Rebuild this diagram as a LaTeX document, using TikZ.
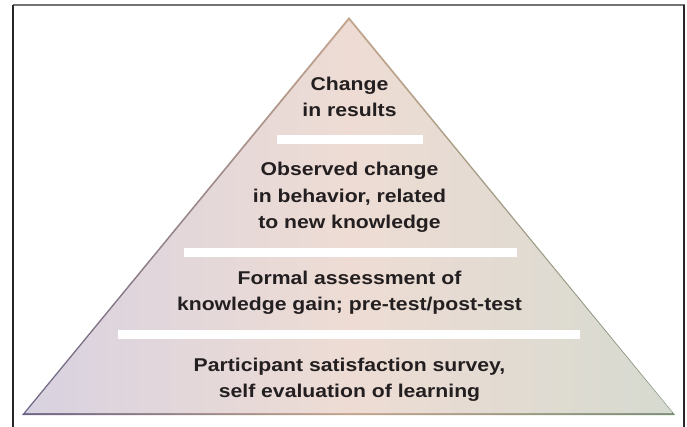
\documentclass[tikz,border=0pt]{standalone}
\usepackage{fontspec}
\setmainfont{Liberation Sans}[FakeStretch=1.145]
\definecolor{edgeleft}{RGB}{108,100,132}
\definecolor{edgemid}{RGB}{196,166,142}
\definecolor{edgeright}{RGB}{122,142,120}
\definecolor{fillleft}{RGB}{216,210,224}
\definecolor{fillmid}{RGB}{238,220,212}
\definecolor{fillright}{RGB}{214,218,208}
\definecolor{inkgray}{RGB}{35,31,32}
\tikzset{every picture/.style={x=1pt,y=-1pt},
  tierlabel/.style={align=center, inner sep=0pt, text=inkgray,
    font=\fontsize{18.5}{26.5}\selectfont\bfseries},
  divider/.style={fill=white, draw=none}}

\begin{document}
\begin{tikzpicture}
  \useasboundingbox (0,0) rectangle (687,427);
  % frame, open at the bottom
  \draw[line width=2pt, black!55] (12.5,5.5) -- (684.5,5.5);
  \draw[line width=1.3pt, black!85] (13,5) -- (13,427);
  \draw[line width=1.3pt, black!85] (684,5) -- (684,427);

  % pyramid: dark shaded rim, light shaded body on top
  \shade[left color=edgeleft, right color=edgeright, middle color=edgemid]
    (349,17) -- (675,415) -- (22,415) -- cycle;
  \shade[left color=fillleft, right color=fillright, middle color=fillmid]
    (349,20.2) -- (672.6,413) -- (25.4,413) -- cycle;

  % white bars between the tiers
  \fill[divider] (277,135) rectangle (423,144);
  \fill[divider] (184,248) rectangle (517,257);
  \fill[divider] (118,330) rectangle (580,339);

  \node[tierlabel] (results) at (349.5,97) {Change\\in results};
  \node[tierlabel] (behavior) at (349.5,197.5) {Observed change\\in behavior, related\\to new knowledge};
  \node[tierlabel] (knowledge) at (349.5,293) {Formal assessment of\\knowledge gain; pre-test/post-test};
  \node[tierlabel] (satisfaction) at (349.5,380) {Participant satisfaction survey,\\self evaluation of learning};
\end{tikzpicture}
\end{document}
